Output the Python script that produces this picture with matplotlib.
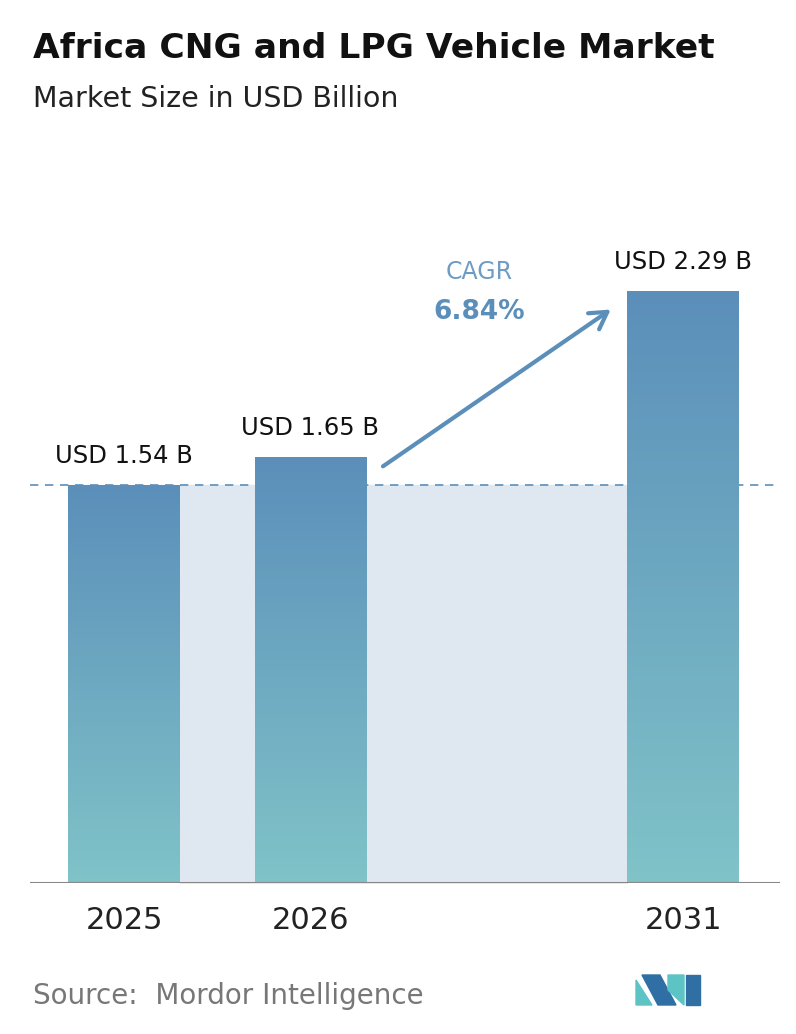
import matplotlib
matplotlib.use("Agg")
import matplotlib.pyplot as plt
import numpy as np
from matplotlib.colors import LinearSegmentedColormap
from matplotlib.patches import Polygon

years = ["2025", "2026", "2031"]
positions = [0, 1, 3]
values = [1.54, 1.65, 2.29]
labels = ["USD 1.54 B", "USD 1.65 B", "USD 2.29 B"]
cagr = "6.84%"

W, H = 796, 1034
fig = plt.figure(figsize=(W/100, H/100), dpi=100)
fig.patch.set_facecolor("white")
ax = fig.add_axes([30/W, (H-883)/H, 750/W, 672/H])
ax.set_xlim(-0.505, 3.52)
ax.set_ylim(0, 2.6)
ax.axis("off")

bw = 0.6
cmap = LinearSegmentedColormap.from_list("g", ["#80c3c8", "#5b8fba"])
grad = np.linspace(0, 1, 256).reshape(-1, 1)
for p, v, lab in zip(positions, values, labels):
    bars = ax.bar(p, v, width=bw, color="none", zorder=3)
    im = ax.imshow(grad, cmap=cmap, origin="lower", aspect="auto",
                   extent=[p-bw/2, p+bw/2, 0, v], zorder=3)
    im.set_clip_path(bars[0])
    ax.text(p, v + 0.065, lab, ha="center", va="bottom",
            fontsize=17.5, color="#111111")

ax.fill_between([positions[0]+bw/2, positions[2]-bw/2], 0, values[0],
                color="#dfe8f1", zorder=1)
ax.axhline(values[0], color="#5b8fba", ls=(0, (5, 4)), lw=1.2, zorder=2)
ax.axhline(0, color="#888888", lw=1.5, zorder=4)

for p, y in zip(positions, years):
    ax.text(p, -0.09, y, ha="center", va="top", fontsize=22, color="#222222")

ax.annotate("", xy=(2.624, 2.225), xytext=(1.377, 1.606),
            arrowprops=dict(arrowstyle="->,head_length=1.2,head_width=0.7",
                            color="#5b8fba", lw=3), zorder=5)
ax.text(1.903, 2.365, "CAGR", ha="center", va="center", fontsize=17, color="#6e9cc4")
ax.text(1.903, 2.21, cagr, ha="center", va="center", fontsize=19,
        fontweight="bold", color="#5b8fba")

fig.text(33/W, 1-48/H, "Africa CNG and LPG Vehicle Market", fontsize=24.8,
         fontweight="bold", color="#111111", va="center")
fig.text(33/W, 1-99/H, "Market Size in USD Billion", fontsize=20.5,
         color="#222222", va="center")
fig.text(33/W, 1-996/H, "Source:  Mordor Intelligence", fontsize=20,
         color="#777777", va="center")

def px(pts):
    return [(x/W, 1-y/H) for x, y in pts]
fig.patches.append(Polygon(px([(636,1005),(636,980),(652,1005)]), closed=True,
                           transform=fig.transFigure, color="#5ec3c5"))
fig.patches.append(Polygon(px([(642,975),(660,975),(676,1005),(658,1005)]), closed=True,
                           transform=fig.transFigure, color="#2f6fa3"))
fig.patches.append(Polygon(px([(668,975),(684,975),(684,1005),(668,990)]), closed=True,
                           transform=fig.transFigure, color="#5ec3c5"))
fig.patches.append(Polygon(px([(686,975),(700,975),(700,1005),(686,1005)]), closed=True,
                           transform=fig.transFigure, color="#2f6fa3"))

fig.savefig("out.png", dpi=100)
